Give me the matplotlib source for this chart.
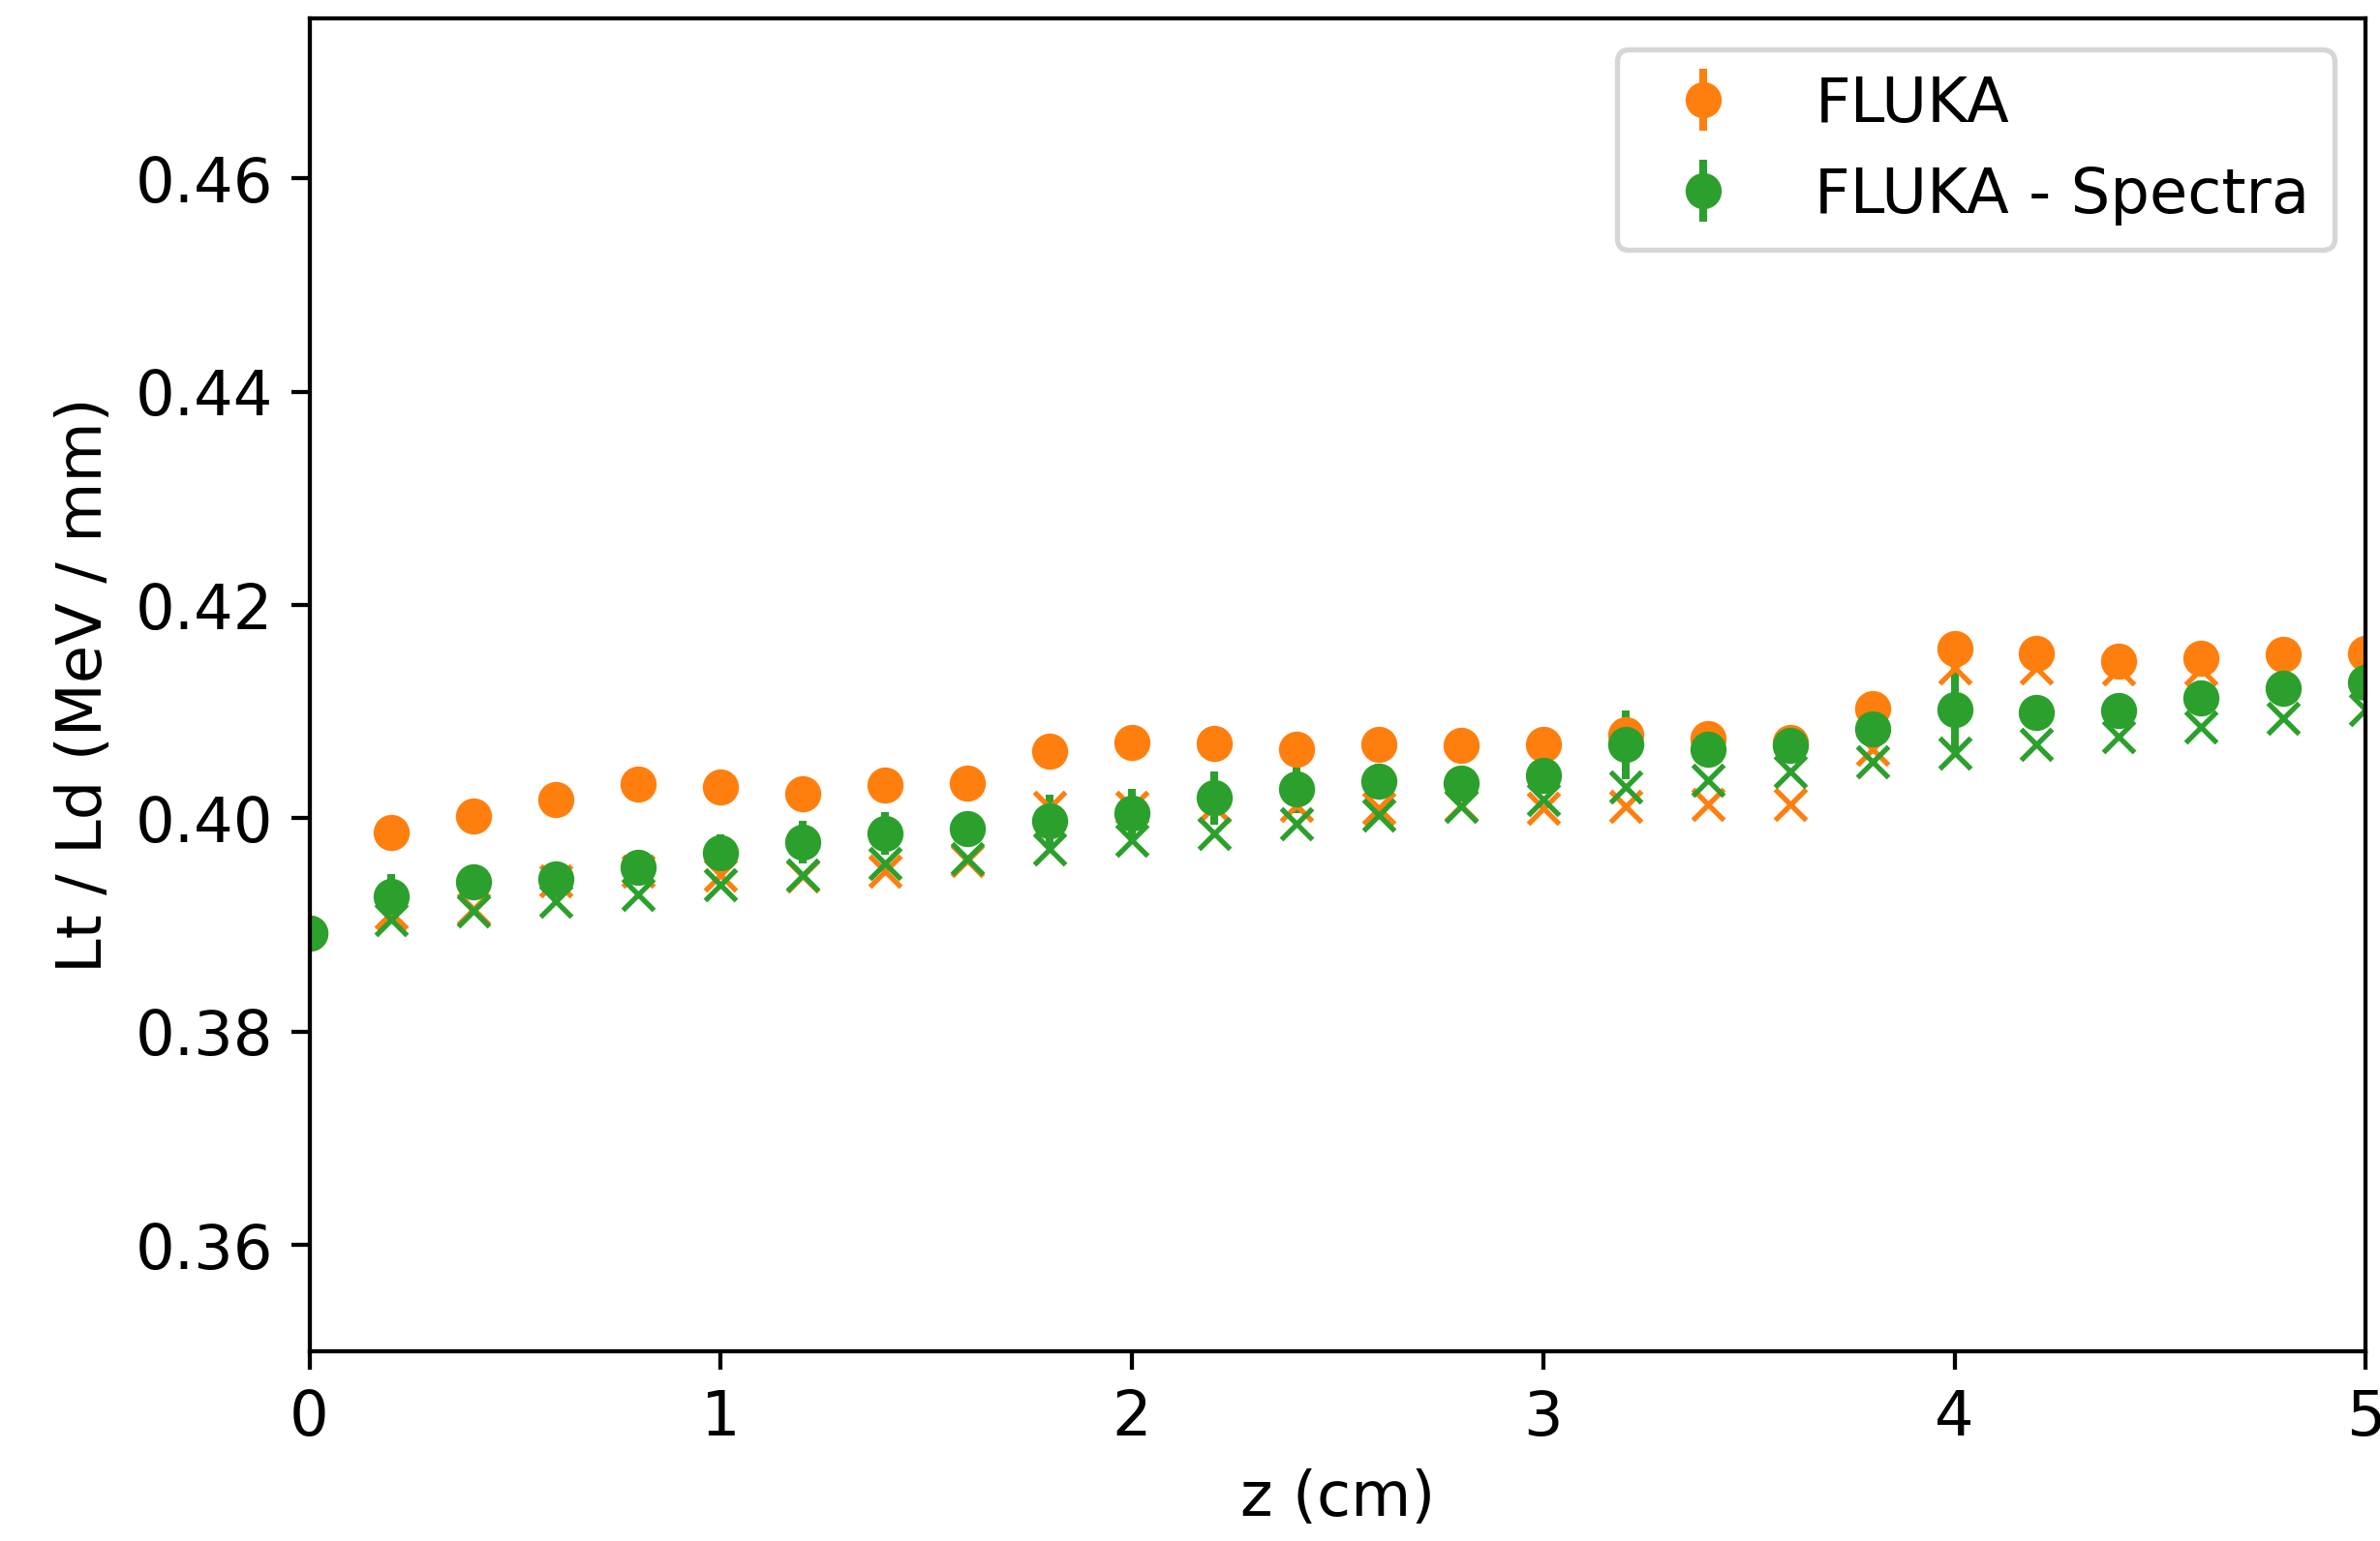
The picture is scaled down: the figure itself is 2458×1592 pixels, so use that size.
import numpy as np
import matplotlib.pyplot as plt

# --- Data ---
z = np.round(np.arange(0, 5.01, 0.2), 1)

fluka = [0.3892, 0.3987, 0.4002, 0.4018, 0.4032, 0.4029, 0.4023, 0.4031, 0.4033,
         0.4063, 0.4071, 0.4070, 0.4065, 0.4069, 0.4068, 0.4069, 0.4078, 0.4075,
         0.4071, 0.4103, 0.4159, 0.4155, 0.4147, 0.4150, 0.4154, 0.4155]
fluka_err = [0.0005, 0.0010, 0.0010, 0.0010, 0.0010, 0.0010, 0.0010, 0.0010, 0.0010,
             0.0010, 0.0010, 0.0010, 0.0010, 0.0010, 0.0010, 0.0010, 0.0010, 0.0010,
             0.0010, 0.0010, 0.0015, 0.0010, 0.0010, 0.0010, 0.0010, 0.0010]

spectra = [0.3892, 0.3927, 0.3940, 0.3943, 0.3954, 0.3968, 0.3978, 0.3986, 0.3990,
           0.3998, 0.4005, 0.4019, 0.4028, 0.4035, 0.4033, 0.4040, 0.4069, 0.4065,
           0.4068, 0.4084, 0.4102, 0.4099, 0.4101, 0.4113, 0.4122, 0.4127]
spectra_err = [0.0005, 0.0021, 0.0015, 0.0012, 0.0012, 0.0017, 0.0020, 0.0020, 0.0015,
               0.0024, 0.0023, 0.0025, 0.0023, 0.0016, 0.0012, 0.0012, 0.0032, 0.0017,
               0.0013, 0.0012, 0.0039, 0.0012, 0.0012, 0.0016, 0.0012, 0.0012]

# crosses (no legend entry), starting at z = 0.2
z_x = z[1:]
fluka_x = [0.3911, 0.3915, 0.3941, 0.3950, 0.3947, 0.3946, 0.3950, 0.3960, 0.4010,
           0.4010, 0.4011, 0.4012, 0.4009, 0.4012, 0.4009, 0.4011, 0.4013, 0.4013,
           0.4065, 0.4141, 0.4141, 0.4140, 0.4140, 0.4140, 0.4140]
spectra_x = [0.3905, 0.3913, 0.3922, 0.3929, 0.3938, 0.3947, 0.3958, 0.3962, 0.3971,
             0.3979, 0.3986, 0.3995, 0.4003, 0.4011, 0.4018, 0.4029, 0.4036, 0.4044,
             0.4053, 0.4061, 0.4069, 0.4077, 0.4086, 0.4094, 0.4102]

plt.rcParams['font.size'] = 12

fig = plt.figure(figsize=(2458 / 384, 1592 / 384), dpi=384)
ax = fig.add_axes([0.130, 0.123, 0.864, 0.865])

ax.errorbar(z, fluka, yerr=fluka_err, fmt='o', color='C1', label='FLUKA')
ax.errorbar(z, spectra, yerr=spectra_err, fmt='o', color='C2', label='FLUKA - Spectra')
ax.plot(z_x, fluka_x, 'x', color='C1')
ax.plot(z_x, spectra_x, 'x', color='C2')

ax.set_xlim(0, 5)
ax.set_ylim(0.35, 0.475)
ax.set_yticks([0.36, 0.38, 0.40, 0.42, 0.44, 0.46])
ax.set_xlabel('z (cm)')
ax.set_ylabel('Lt / Ld (MeV / mm)')
ax.legend(loc='upper right')

fig.savefig('out.png', dpi=384)
